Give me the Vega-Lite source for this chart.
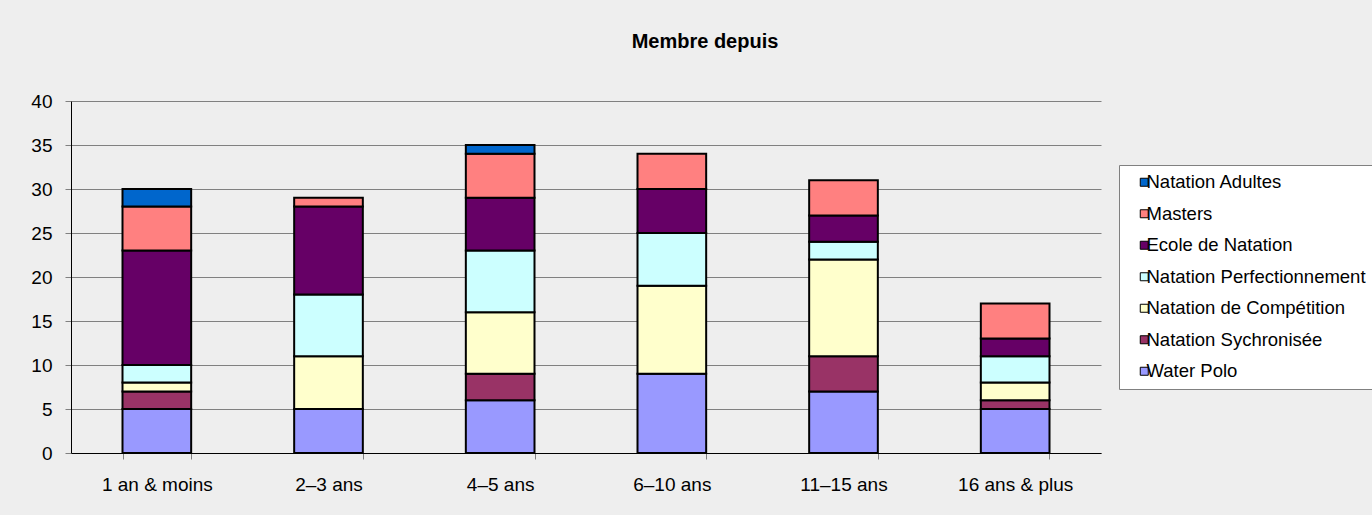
{
  "$schema": "https://vega.github.io/schema/vega-lite/v6.json",
  "width": 1030,
  "height": 352,
  "autosize": {"type": "none"},
  "padding": {"left": 71, "top": 101, "right": 271, "bottom": 62},
  "background": "#EEEEEE",
  "title": {
    "text": "Membre depuis",
    "font": "Liberation Sans",
    "fontSize": 20,
    "fontWeight": "bold",
    "color": "#000000",
    "anchor": "middle",
    "frame": "group",
    "baseline": "alphabetic",
    "offset": 24,
    "dx": 119
  },
  "data": {
    "values": [
      {"Periode": "1 an & moins", "Section": "Water Polo", "Membres": 5},
      {"Periode": "1 an & moins", "Section": "Natation Sychronisée", "Membres": 2},
      {"Periode": "1 an & moins", "Section": "Natation de Compétition", "Membres": 1},
      {"Periode": "1 an & moins", "Section": "Natation Perfectionnement", "Membres": 2},
      {"Periode": "1 an & moins", "Section": "Ecole de Natation", "Membres": 13},
      {"Periode": "1 an & moins", "Section": "Masters", "Membres": 5},
      {"Periode": "1 an & moins", "Section": "Natation Adultes", "Membres": 2},
      {"Periode": "2–3 ans", "Section": "Water Polo", "Membres": 5},
      {"Periode": "2–3 ans", "Section": "Natation de Compétition", "Membres": 6},
      {"Periode": "2–3 ans", "Section": "Natation Perfectionnement", "Membres": 7},
      {"Periode": "2–3 ans", "Section": "Ecole de Natation", "Membres": 10},
      {"Periode": "2–3 ans", "Section": "Masters", "Membres": 1},
      {"Periode": "4–5 ans", "Section": "Water Polo", "Membres": 6},
      {"Periode": "4–5 ans", "Section": "Natation Sychronisée", "Membres": 3},
      {"Periode": "4–5 ans", "Section": "Natation de Compétition", "Membres": 7},
      {"Periode": "4–5 ans", "Section": "Natation Perfectionnement", "Membres": 7},
      {"Periode": "4–5 ans", "Section": "Ecole de Natation", "Membres": 6},
      {"Periode": "4–5 ans", "Section": "Masters", "Membres": 5},
      {"Periode": "4–5 ans", "Section": "Natation Adultes", "Membres": 1},
      {"Periode": "6–10 ans", "Section": "Water Polo", "Membres": 9},
      {"Periode": "6–10 ans", "Section": "Natation de Compétition", "Membres": 10},
      {"Periode": "6–10 ans", "Section": "Natation Perfectionnement", "Membres": 6},
      {"Periode": "6–10 ans", "Section": "Ecole de Natation", "Membres": 5},
      {"Periode": "6–10 ans", "Section": "Masters", "Membres": 4},
      {"Periode": "11–15 ans", "Section": "Water Polo", "Membres": 7},
      {"Periode": "11–15 ans", "Section": "Natation Sychronisée", "Membres": 4},
      {"Periode": "11–15 ans", "Section": "Natation de Compétition", "Membres": 11},
      {"Periode": "11–15 ans", "Section": "Natation Perfectionnement", "Membres": 2},
      {"Periode": "11–15 ans", "Section": "Ecole de Natation", "Membres": 3},
      {"Periode": "11–15 ans", "Section": "Masters", "Membres": 4},
      {"Periode": "16 ans & plus", "Section": "Water Polo", "Membres": 5},
      {"Periode": "16 ans & plus", "Section": "Natation Sychronisée", "Membres": 1},
      {"Periode": "16 ans & plus", "Section": "Natation de Compétition", "Membres": 2},
      {"Periode": "16 ans & plus", "Section": "Natation Perfectionnement", "Membres": 3},
      {"Periode": "16 ans & plus", "Section": "Ecole de Natation", "Membres": 2},
      {"Periode": "16 ans & plus", "Section": "Masters", "Membres": 4}
    ]
  },
  "transform": [
    {"calculate": "indexof(['Water Polo','Natation Sychronisée','Natation de Compétition','Natation Perfectionnement','Ecole de Natation','Masters','Natation Adultes'], datum.Section)", "as": "ordre"}
  ],
  "mark": {"type": "bar", "stroke": "#000000", "strokeWidth": 2, "opacity": 1},
  "encoding": {
    "x": {
      "field": "Periode",
      "type": "nominal",
      "sort": ["1 an & moins", "2–3 ans", "4–5 ans", "6–10 ans", "11–15 ans", "16 ans & plus"],
      "scale": {"paddingInner": 0.6, "paddingOuter": 0.3},
      "axis": {
        "title": null,
        "labelAngle": 0,
        "tickBand": "extent",
        "tickSize": 6,
        "tickColor": "#808080",
        "domainColor": "#000000",
        "labelPadding": 16,
        "labelFont": "Liberation Sans",
        "labelFontSize": 19,
        "labelColor": "#000000",
        "grid": false
      }
    },
    "y": {
      "field": "Membres",
      "type": "quantitative",
      "aggregate": "sum",
      "stack": "zero",
      "scale": {"domain": [0, 40], "nice": false},
      "axis": {
        "title": null,
        "values": [0, 5, 10, 15, 20, 25, 30, 35, 40],
        "grid": true,
        "gridColor": "#808080",
        "gridWidth": 1,
        "tickSize": 6,
        "tickColor": "#808080",
        "domainColor": "#000000",
        "labelPadding": 13,
        "labelFont": "Liberation Sans",
        "labelFontSize": 19,
        "labelColor": "#000000"
      }
    },
    "color": {
      "field": "Section",
      "type": "nominal",
      "scale": {
        "domain": ["Natation Adultes", "Masters", "Ecole de Natation", "Natation Perfectionnement", "Natation de Compétition", "Natation Sychronisée", "Water Polo"],
        "range": ["#0066CC", "#FF8080", "#660066", "#CCFFFF", "#FFFFCC", "#993366", "#9999FF"]
      },
      "legend": {
        "title": null,
        "orient": "none",
        "legendX": 1048,
        "legendY": 64,
        "symbolType": "square",
        "symbolSize": 64,
        "symbolStrokeColor": "#000000",
        "symbolStrokeWidth": 1,
        "symbolOffset": 8,
        "labelOffset": -7,
        "labelFont": "Liberation Sans",
        "labelFontSize": 18.5,
        "labelColor": "#000000",
        "labelLimit": 400,
        "rowPadding": 12.5,
        "padding": 8,
        "fillColor": "#FFFFFF",
        "strokeColor": "#808080"
      }
    },
    "order": {"field": "ordre", "type": "quantitative"}
  },
  "config": {
    "view": {"stroke": null},
    "axis": {"labelFont": "Liberation Sans"}
  }
}
